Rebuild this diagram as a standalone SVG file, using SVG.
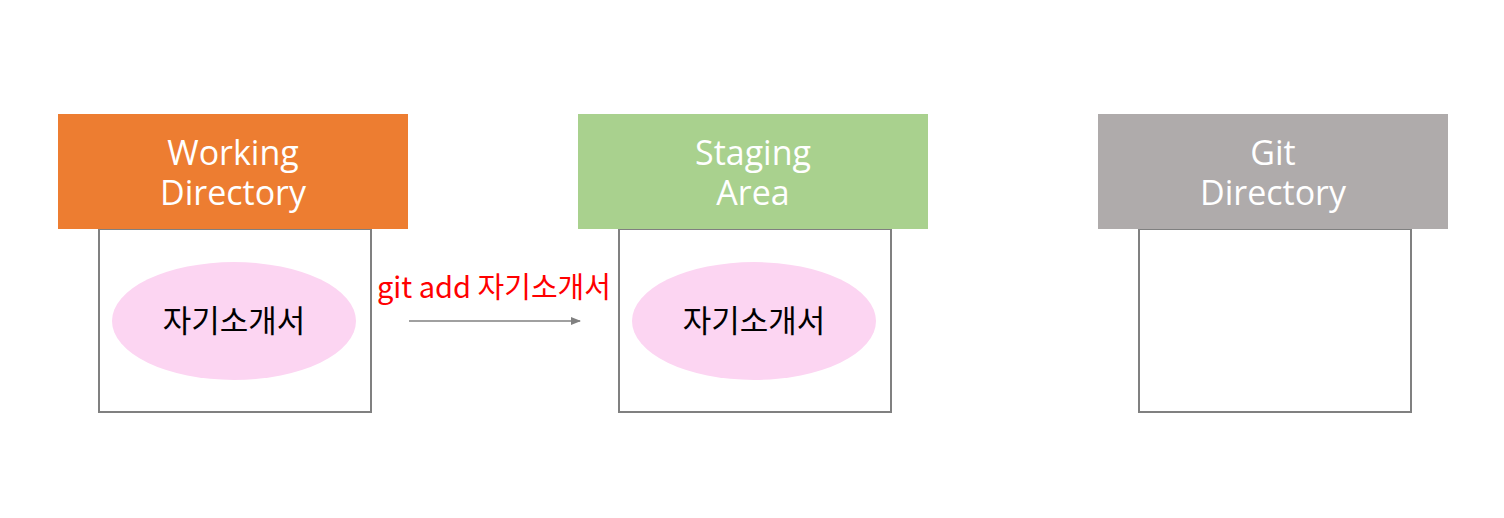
<svg xmlns="http://www.w3.org/2000/svg" width="1504" height="518" viewBox="0 0 1504 518">
<defs>
<style>
.hdr{font-family:"Open Sans","Noto Sans","Noto Sans CJK KR",sans-serif;font-size:34px;fill:#ffffff;text-anchor:middle}
.box{fill:#ffffff;stroke:#808080;stroke-width:2}
.ell{fill:#FCD5F2}
.lbl{font-family:"Noto Sans CJK KR","Noto Sans",sans-serif;font-size:31px;fill:#000000;text-anchor:middle}
.edge{font-family:"Noto Sans CJK KR","Noto Sans",sans-serif;font-size:29px;fill:#FF0000;text-anchor:middle}
</style>
<marker id="arr" markerWidth="10" markerHeight="8" refX="9" refY="4" orient="auto" markerUnits="userSpaceOnUse">
<path d="M0,0 L10,4 L0,8 Z" fill="#808080"/>
</marker>
</defs>
<rect width="1504" height="518" fill="#ffffff"/>
<g id="working">
<rect class="box" x="99" y="229" width="272" height="183"/>
<rect x="58" y="114" width="350" height="115" fill="#ED7D31"/>
<text class="hdr" x="233" y="165">Working</text>
<text class="hdr" x="233" y="205">Directory</text>
<ellipse class="ell" cx="234" cy="321" rx="122" ry="59"/>
<text class="lbl" x="234" y="332">자기소개서</text>
</g>
<g id="staging">
<rect class="box" x="619" y="229" width="272" height="183"/>
<rect x="578" y="114" width="350" height="115" fill="#A9D18E"/>
<text class="hdr" x="753" y="165">Staging</text>
<text class="hdr" x="753" y="205">Area</text>
<ellipse class="ell" cx="754" cy="321" rx="122" ry="59"/>
<text class="lbl" x="754" y="332">자기소개서</text>
</g>
<g id="gitdir">
<rect class="box" x="1139" y="229" width="272" height="183"/>
<rect x="1098" y="114" width="350" height="115" fill="#AFABAB"/>
<text class="hdr" x="1273" y="165">Git</text>
<text class="hdr" x="1273" y="205">Directory</text>
</g>
<g id="connectors">
<line x1="409" y1="321" x2="580" y2="321" stroke="#808080" stroke-width="1.5" marker-end="url(#arr)"/>
<text class="edge" x="494" y="298">git add 자기소개서</text>
</g>
</svg>
